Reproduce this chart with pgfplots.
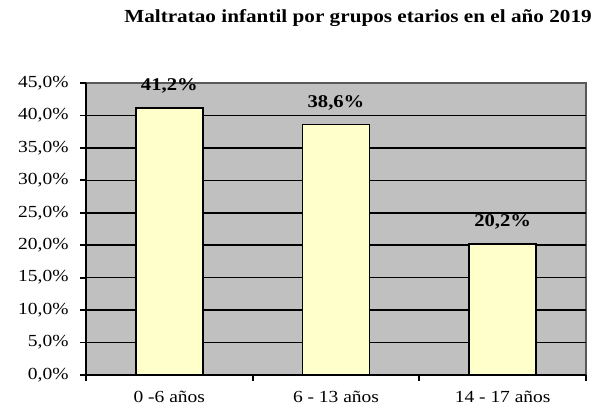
\documentclass[border=0pt]{standalone}
\usepackage{pgfplots}
\pgfplotsset{compat=1.18}
\usepackage{fontspec}
\setmainfont{Liberation Serif}[FakeStretch=1.15]
\definecolor{bg}{HTML}{C0C0C0}
\definecolor{barfill}{HTML}{FFFFCC}
\begin{document}
\begin{tikzpicture}[x=1bp,y=1bp]
\path[use as bounding box] (0,0) rectangle (598,415);
\node[font=\bfseries\fontsize{18.5}{22}\selectfont] at (358,397) {Maltratao infantil por grupos etarios en el año 2019};
\begin{axis}[
  at={(86bp,40bp)}, anchor=south west,
  scale only axis, width=500bp, height=292bp,
  xmin=0, xmax=3, ymin=0, ymax=45,
  axis background/.style={fill=bg, draw=gray!70!black, line width=1.2bp},
  axis lines=left,
  axis line style={-, black, line width=1.8bp},
  xtick={0,1,2,3},
  xticklabels={0 -6 años, 6 - 13 años, 14 - 17 años},
  x tick label as interval,
  ytick={0,5,...,40},
  extra y ticks={45},
  extra y tick style={ymajorgrids=false},
  yticklabel={\pgfmathprintnumber[fixed,fixed zerofill,precision=1,use comma]{\tick}\%},
  /pgf/number format/assume math mode=true,
  tick align=outside,
  major tick length=6bp,
  tick style={black, line width=1.8bp},
  ymajorgrids,
  grid style={black, line width=1.6bp},
  ticklabel style={font=\fontsize{17}{20}\selectfont},
  x tick label style={yshift=-7bp},
  y tick label style={xshift=-8bp},
  ybar, bar width=67bp, bar shift=0pt,
  nodes near coords={\pgfmathprintnumber[fixed,fixed zerofill,precision=1,use comma]{\pgfplotspointmeta}\%},
  every node near coord/.append style={font=\bfseries\fontsize{18}{21}\selectfont, anchor=base, yshift=17bp},
]
\addplot[fill=barfill, draw=black, line width=1.8bp] coordinates {(0.5,41.2) (1.5,38.6) (2.5,20.2)};
\end{axis}
\end{tikzpicture}
\end{document}
